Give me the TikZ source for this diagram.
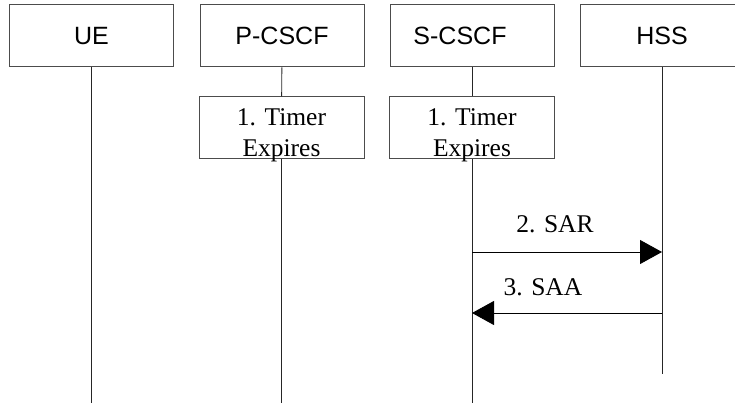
\documentclass[tikz,border=0pt]{standalone}
\usepackage{fontspec}
\setmainfont{Liberation Serif}
\setsansfont{Liberation Sans}
\usetikzlibrary{arrows.meta}
\begin{document}
\begin{tikzpicture}[x=1pt,y=-1pt,
        entity/.style={draw=black!70,line width=1pt,minimum width=164pt,minimum height=62pt,inner sep=0pt,
          font=\sffamily\fontsize{25}{30}\selectfont},
        timerbox/.style={draw=black!70,line width=1pt,minimum width=165pt,minimum height=62pt,inner sep=0pt,
          align=center,text height=60pt,text depth=2pt,font=\fontsize{25.5}{31}\selectfont},
        lifeline/.style={line width=0.9pt,black!85},
        msg/.style={line width=0.9pt,-{Triangle[length=22pt,width=24pt]}},
        msglabel/.style={font=\fontsize{25.5}{31}\selectfont,inner sep=0pt}]
        \useasboundingbox (0,0) rectangle (735,403);
        % entities
        \node [entity] (ue) at (91.5,36) {UE};
        \node [entity] (pcscf) at (282,36) {P-CSCF};
        \node [entity] (scscf) at (472,35.5) {\hspace*{-24pt}S-CSCF};
        \node [entity] (hss) at (662,36) {HSS};
        % timers
        \node [timerbox] (ptimer) at (281.5,128) {1. Timer\\Expires};
        \node [timerbox] (stimer) at (472,128) {1. Timer\\Expires};
        % lifeline ends
        \coordinate (ueend) at (91.5,403);
        \coordinate (pend) at (281.5,403);
        \coordinate (send) at (472,403);
        \coordinate (hend) at (662,374);
        \draw [lifeline] (ue) -- (ueend);
        \draw [lifeline] (pcscf) -- (ptimer);
        \draw [lifeline] (ptimer) -- (pend);
        \draw [lifeline] (scscf) -- (stimer);
        \draw [lifeline] (stimer) -- (send);
        \draw [lifeline] (hss) -- (hend);
        % messages
        \coordinate (sar) at (0,252);
        \coordinate (saa) at (0,313);
        \draw [msg] (stimer |- sar) -- (hss |- sar);
        \node [msglabel] (sartext) at (555,224) {2. SAR};
        \draw [msg] (hss |- saa) -- (stimer |- saa);
        \node [msglabel] (saatext) at (543,287) {3. SAA};
\end{tikzpicture}
\end{document}
